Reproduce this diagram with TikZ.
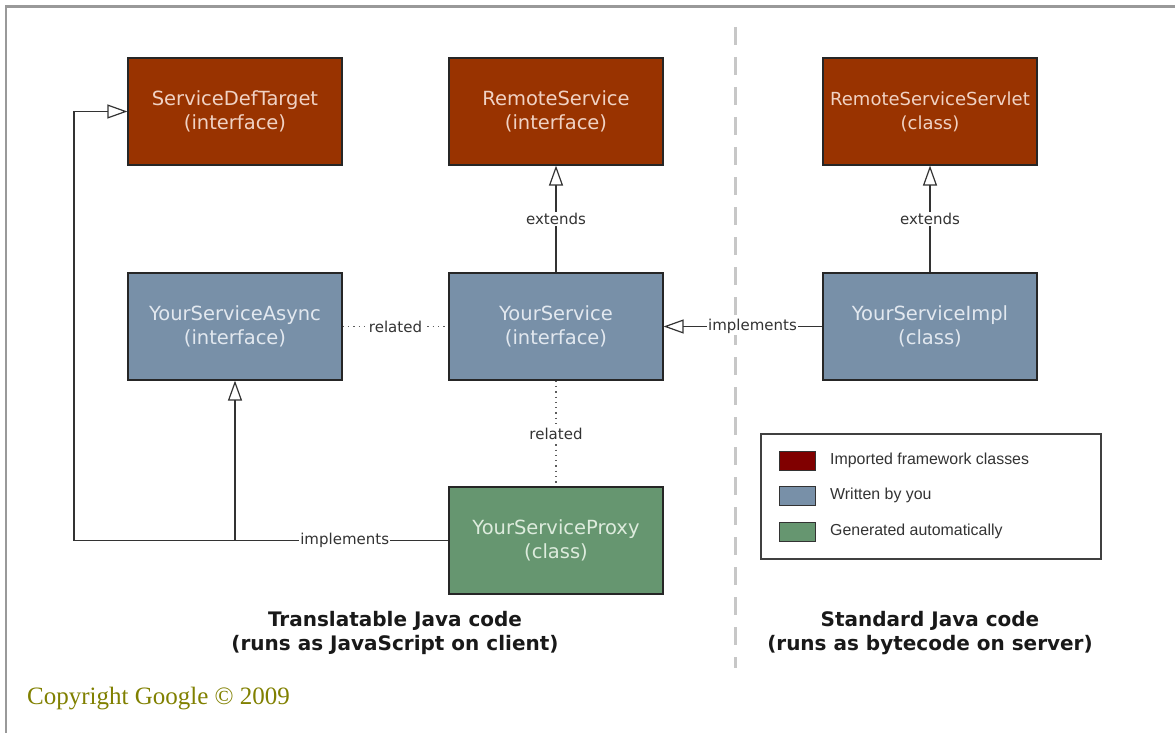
\documentclass[tikz,border=0pt]{standalone}
\usepackage{fontspec}
\setmainfont{DejaVu Sans}
\newfontfamily\legfont{Liberation Sans}
\newfontfamily\copyfont{Liberation Serif}
\usetikzlibrary{arrows.meta}
\definecolor{brownbox}{HTML}{993300}
\definecolor{bluebox}{HTML}{7890A8}
\definecolor{greenbox}{HTML}{669670}
\definecolor{browntxt}{HTML}{F0D2C4}
\definecolor{bluetxt}{HTML}{E2E8EF}
\definecolor{greentxt}{HTML}{DDEBDD}
\definecolor{lnk}{HTML}{333333}
\definecolor{olive}{HTML}{808000}
\definecolor{legbrown}{HTML}{800000}
\tikzset{
  cls/.style={draw=black!85, line width=1.2pt, minimum width=214pt, minimum height=107pt,
    align=center, font=\fontsize{19.5}{24}\selectfont, inner sep=0pt},
  imported/.style={cls, fill=brownbox, text=browntxt},
  mine/.style={cls, fill=bluebox, text=bluetxt},
  generated/.style={cls, fill=greenbox, text=greentxt},
  gen/.style={draw=lnk, line width=1.3pt, -{Triangle[open, length=20pt, width=14pt, line width=1.2pt]}},
  plainln/.style={draw=lnk, line width=1.3pt},
  rel/.style={draw=lnk!80, line width=1.3pt, dash pattern=on 1.3pt off 4pt},
  lbl/.style={fill=white, inner sep=1pt, text=lnk, font=\fontsize{15}{18}\selectfont},
  swatch/.style={draw=black!80, line width=1pt, minimum width=36pt, minimum height=19pt, inner sep=0pt},
  legtxt/.style={anchor=west, inner sep=0pt, text=black!80, font=\legfont\fontsize{15.9}{18}\selectfont},
  side/.style={align=center, font=\bfseries\fontsize{20}{24}\selectfont, text=black!90},
}
\begin{document}
\begin{tikzpicture}[x=1pt, y=-1pt]
\useasboundingbox (0,0) rectangle (1175,733);
% frame
\draw[black!40, line width=2.5pt] (6,733) -- (6,6.5) -- (1175,6.5);
% divider
\draw[black!22, line width=3pt, dash pattern=on 18pt off 12pt] (735,27) -- (735,668);
% classes
\node[imported] (sdt) at (235,111.5) {ServiceDefTarget\\(interface)};
\node[imported] (rs) at (556,111.5) {RemoteService\\(interface)};
\node[imported, font=\fontsize{18}{24}\selectfont] (rss) at (930,111.5) {RemoteServiceServlet\\(class)};
\node[mine] (async) at (235,326.5) {YourServiceAsync\\(interface)};
\node[mine] (ys) at (556,326.5) {YourService\\(interface)};
\node[mine] (impl) at (930,326.5) {YourServiceImpl\\(class)};
\node[generated] (proxy) at (556,540.5) {YourServiceProxy\\(class)};
% connectors
\draw[gen] (ys) -- node[lbl]{extends} (rs);
\draw[gen] (impl) -- node[lbl]{extends} (rss);
\draw[gen] (impl) -- node[lbl, pos=0.44]{implements} (ys);
\draw[rel] (async) -- node[lbl]{related} (ys);
\draw[rel] (ys) -- node[lbl]{related} (proxy);
\coordinate (corner) at (74,541);
\draw[plainln] (proxy.west -| async.south) -- (proxy.west);
\draw[gen] (proxy.west -| async.south) -- (async.south);
\draw[gen] (proxy.west) -- node[lbl, pos=0.277]{implements} (proxy.west -| corner) |- (sdt.west);
% side labels
\node[side] (client) at (395,633) {Translatable Java code\\(runs as JavaScript on client)};
\node[side] (server) at (930,633) {Standard Java code\\(runs as bytecode on server)};
% legend
\node[draw=black!75, line width=1.2pt, minimum width=340pt, minimum height=125pt, inner sep=0pt] (legend) at (931,496.5) {};
\node[swatch, fill=legbrown] (s1) at (797,460.5) {};
\node[swatch, fill=bluebox] (s2) at (797,496) {};
\node[swatch, fill=greenbox] (s3) at (797,531.5) {};
\node[legtxt] (t1) at (830,460) {Imported framework classes};
\node[legtxt] (t2) at (830,495) {Written by you};
\node[legtxt] (t3) at (830,531) {Generated automatically};
% copyright
\node[anchor=west, inner sep=0pt, text=olive, font=\copyfont\fontsize{25}{30}\selectfont] (copy) at (27,699) {Copyright Google © 2009};
\end{tikzpicture}
\end{document}
